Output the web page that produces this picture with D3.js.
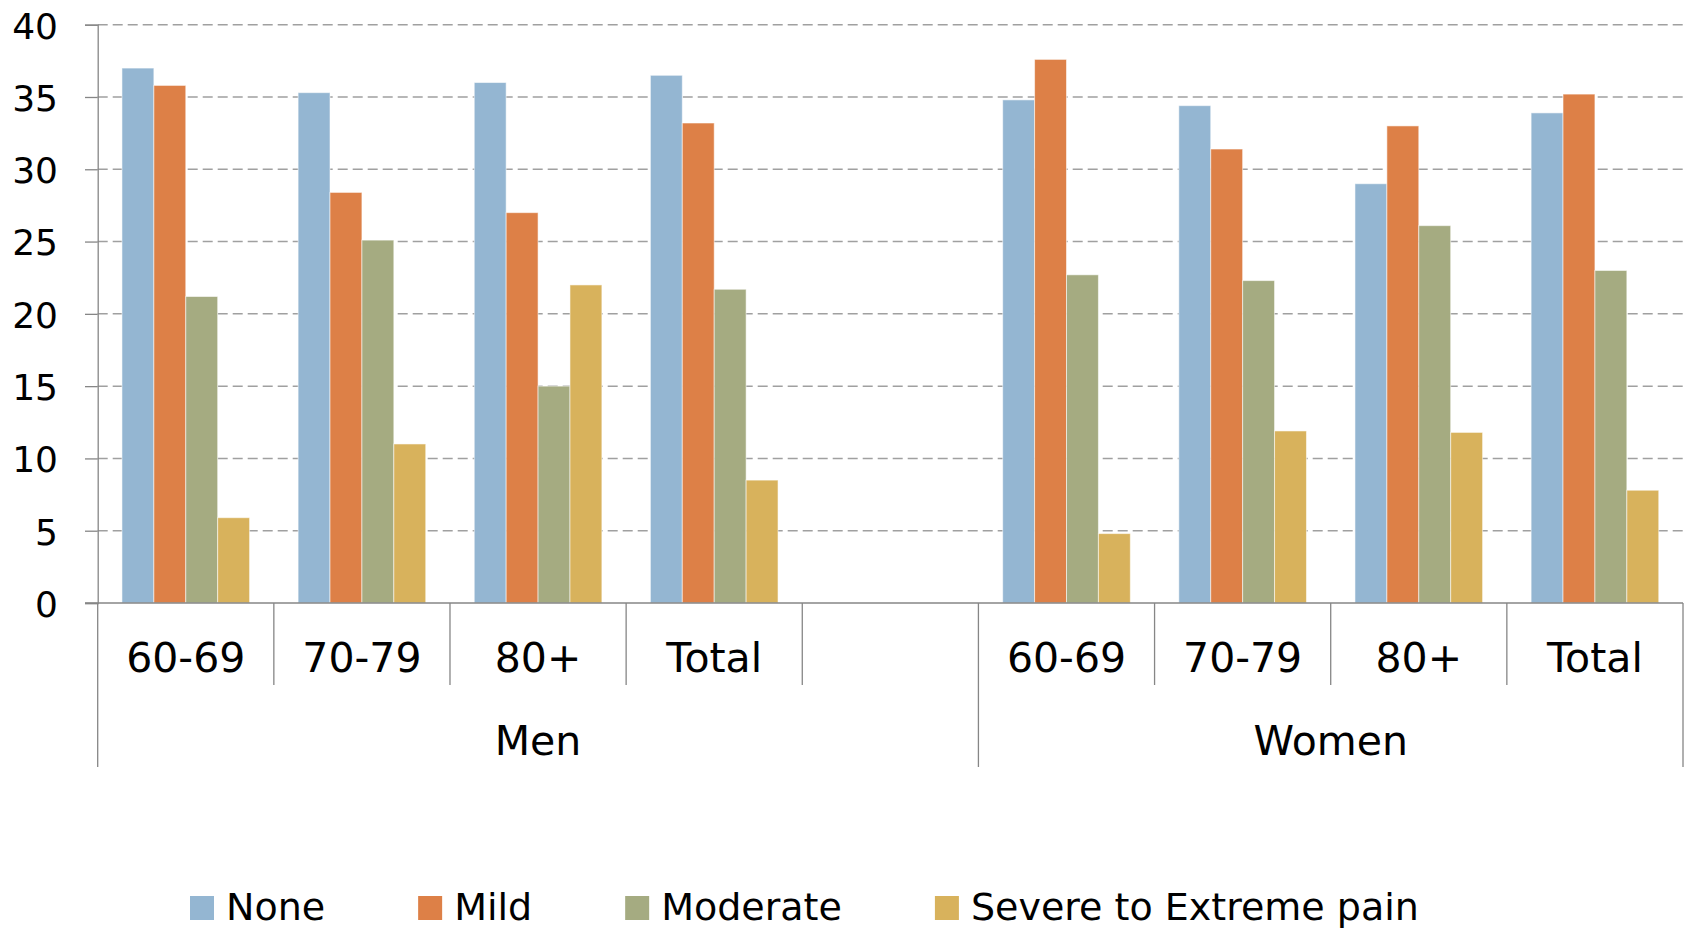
<!DOCTYPE html>
<html>
<head>
<meta charset="utf-8">
<script src="https://cdn.jsdelivr.net/npm/d3@7"></script>
<style>
  html, body { margin: 0; padding: 0; background: #fff; }
  svg { display: block; font-family: "DejaVu Sans", sans-serif; }
</style>
</head>
<body>
<svg id="chart" width="1685" height="929"></svg>
<script>
// ---------- data ----------
const categories = ["60-69", "70-79", "80+", "Total", "", "60-69", "70-79", "80+", "Total"];
const groupOfCategory = ["Men", "Men", "Men", "Men", "Men", "Women", "Women", "Women", "Women"];
const groupNames = ["Men", "Women"];
const seriesNames = ["None", "Mild", "Moderate", "Severe to Extreme pain"];
const noneValues     = [37.0, 35.3, 36.0, 36.5, null, 34.8, 34.4, 29.0, 33.9];
const mildValues     = [35.8, 28.4, 27.0, 33.2, null, 37.6, 31.4, 33.0, 35.2];
const moderateValues = [21.2, 25.1, 15.0, 21.7, null, 22.7, 22.3, 26.1, 23.0];
const severeValues   = [5.9, 11.0, 22.0, 8.5, null, 4.8, 11.9, 11.8, 7.8];
const yTicks = [0, 5, 10, 15, 20, 25, 30, 35, 40];
const seriesColors = ["#94B6D2", "#DD8047", "#A5AB81", "#D8B25C"];

const seriesValues = [noneValues, mildValues, moderateValues, severeValues];

(function () {
// ---------- layout ----------
const svg = d3.select("#chart");
const pLeft = 97.7, pRight = 1683, pTop = 24.7, pBottom = 603;

const x = d3.scaleBand().domain(d3.range(categories.length)).range([pLeft, pRight]).paddingInner(0).paddingOuter(0);
const xInner = d3.scaleBand().domain(d3.range(seriesNames.length)).range([0, x.bandwidth()]).paddingInner(0).paddingOuter(0.76);
const y = d3.scaleLinear().domain([0, 40]).range([pBottom, pTop]);

const gridColor = "#A0A0A0";
const axisColor = "#868686";

// gridlines (dashed)
svg.append("g").selectAll("line").data(yTicks.filter(t => t > 0)).join("line")
  .attr("x1", pLeft).attr("x2", pRight)
  .attr("y1", d => y(d)).attr("y2", d => y(d))
  .attr("stroke", gridColor).attr("stroke-width", 1.5)
  .attr("stroke-dasharray", "10,5");

// y axis via d3
const yAxis = d3.axisLeft(y).tickValues(yTicks).tickSize(12.7).tickPadding(0).tickFormat(d3.format("d"));
const yg = svg.append("g").attr("transform", `translate(${pLeft},0)`).call(yAxis);
yg.select(".domain").attr("stroke", axisColor).attr("stroke-width", 1.3);
yg.selectAll(".tick line").attr("stroke", axisColor).attr("stroke-width", 1.3);
yg.selectAll(".tick text")
  .attr("x", 58 - pLeft).attr("dy", "0.37em")
  .attr("font-size", 36).attr("fill", "#000")
  .attr("font-family", "DejaVu Sans, sans-serif");

// bars
const barData = [];
categories.forEach((c, i) => {
  seriesValues.forEach((vals, s) => {
    if (vals[i] != null) barData.push({ i, s, v: vals[i] });
  });
});
svg.append("g").selectAll("rect").data(barData).join("rect")
  .attr("x", d => x(d.i) + xInner(d.s))
  .attr("width", xInner.bandwidth())
  .attr("y", d => y(d.v))
  .attr("height", d => y(0) - y(d.v))
  .attr("fill", d => seriesColors[d.s])
  .attr("stroke", "#ffffff").attr("stroke-opacity", 0.55).attr("stroke-width", 1);

// x axis line
svg.append("line").attr("x1", pLeft - 12.7).attr("x2", pRight).attr("y1", y(0)).attr("y2", y(0))
  .attr("stroke", axisColor).attr("stroke-width", 1.3);

// category separators
const boundaries = d3.range(categories.length + 1);
const groupStarts = [0];
groupOfCategory.forEach((g, i) => { if (i > 0 && g !== groupOfCategory[i - 1]) groupStarts.push(i); });
groupStarts.push(categories.length);
svg.append("g").selectAll("line").data(boundaries).join("line")
  .attr("x1", b => b < categories.length ? x(b) : pRight)
  .attr("x2", b => b < categories.length ? x(b) : pRight)
  .attr("y1", y(0))
  .attr("y2", b => groupStarts.includes(b) ? 767 : 685)
  .attr("stroke", axisColor).attr("stroke-width", 1.3);

// category labels
svg.append("g").selectAll("text").data(categories).join("text")
  .attr("x", (d, i) => x(i) + x.bandwidth() / 2)
  .attr("y", 671.5)
  .attr("text-anchor", "middle")
  .attr("font-size", 41).attr("fill", "#000")
  .text(d => d);

// group labels
groupNames.forEach(g => {
  const idx = groupOfCategory.map((gg, i) => gg === g ? i : -1).filter(i => i >= 0);
  const x0 = x(idx[0]);
  const x1 = idx[idx.length - 1] === categories.length - 1 ? pRight : x(idx[idx.length - 1] + 1);
  svg.append("text")
    .attr("x", (x0 + x1) / 2).attr("y", 755)
    .attr("text-anchor", "middle")
    .attr("font-size", 41).attr("fill", "#000")
    .text(g);
});

// legend
const legend = svg.append("g");
let lx = 190;
seriesNames.forEach((name, s) => {
  legend.append("rect").attr("x", lx).attr("y", 896).attr("width", 24).attr("height", 24)
    .attr("fill", seriesColors[s]);
  const t = legend.append("text").attr("x", lx + 36).attr("y", 920)
    .attr("font-size", 38).attr("fill", "#000").text(name);
  const w = t.node().getComputedTextLength();
  lx = lx + 36 + w + 93;
});
})();
</script>
</body>
</html>
